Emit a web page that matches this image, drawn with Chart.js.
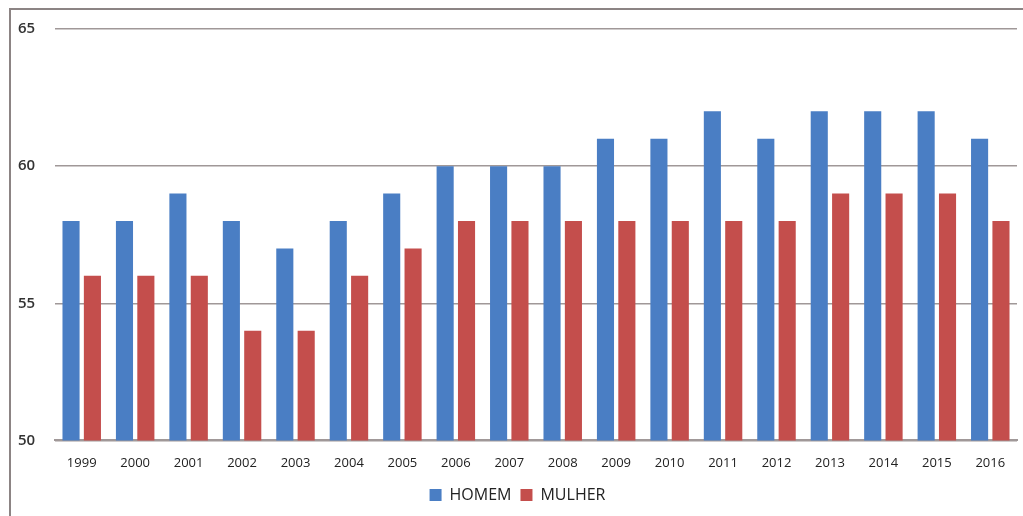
<!DOCTYPE html>
<html>
<head>
<meta charset="utf-8">
<script src="https://cdn.jsdelivr.net/npm/chart.js@4"></script>
<style>
  body { margin: 0; background: #fff; }
  #frame { position: absolute; left: 9px; top: 8px; width: 1100px; height: 600px;
           border-left: 2px solid #8c8484; border-top: 2px solid #8c8484; }
  #wrap { position: absolute; left: 0; top: 0; width: 1023px; height: 516px; }
</style>
</head>
<body>
<div id="frame"></div>
<div id="wrap"><canvas id="barchart"></canvas></div>
<script>
var years = ['1999','2000','2001','2002','2003','2004','2005','2006','2007','2008','2009','2010','2011','2012','2013','2014','2015','2016'];
var homem = [58,58,59,58,57,58,59,60,60,60,61,61,62,61,62,62,62,61];
var mulher = [56,56,56,54,54,56,57,58,58,58,58,58,58,58,59,59,59,58];
var yTicks = [50,55,60,65];

var ctx = document.getElementById('barchart').getContext('2d');
var myChart = new Chart(ctx, {
    type: 'bar',
    data: {
        labels: years,
        datasets: [{
            label: 'HOMEM',
            data: homem,
            backgroundColor: '#4a7ec4',
            categoryPercentage: 0.8,
            barPercentage: 0.8
        }, {
            label: 'MULHER',
            data: mulher,
            backgroundColor: '#c44e4c',
            categoryPercentage: 0.8,
            barPercentage: 0.8
        }]
    },
    options: {
        responsive: true,
        maintainAspectRatio: false,
        animation: false,
        layout: { padding: { left: 18, right: 6, top: 29, bottom: 3 } },
        plugins: {
            tooltip: { enabled: false },
            legend: {
                position: 'bottom',
                labels: {
                    boxWidth: 12, boxHeight: 12, padding: 9,
                    color: '#222',
                    font: { family: 'Open Sans', size: 16 }
                }
            }
        },
        scales: {
            x: {
                grid: { display: false },
                border: { display: true, color: '#a09898', width: 2 },
                ticks: { color: '#222', padding: 7, font: { family: 'Open Sans', size: 13 } }
            },
            y: {
                min: 50, max: 65,
                afterBuildTicks: function (s) { s.ticks = yTicks.map(function (v) { return { value: v }; }); },
                afterFit: function (s) { s.width = 37; },
                grid: { color: '#a09898', lineWidth: 1.5, tickLength: 4, tickColor: '#ffffff' },
                border: { display: false },
                ticks: { crossAlign: 'far', color: '#333', padding: 4, font: { family: 'Open Sans', size: 15, weight: '600' } }
            }
        }
    }
});
</script>
</body>
</html>
